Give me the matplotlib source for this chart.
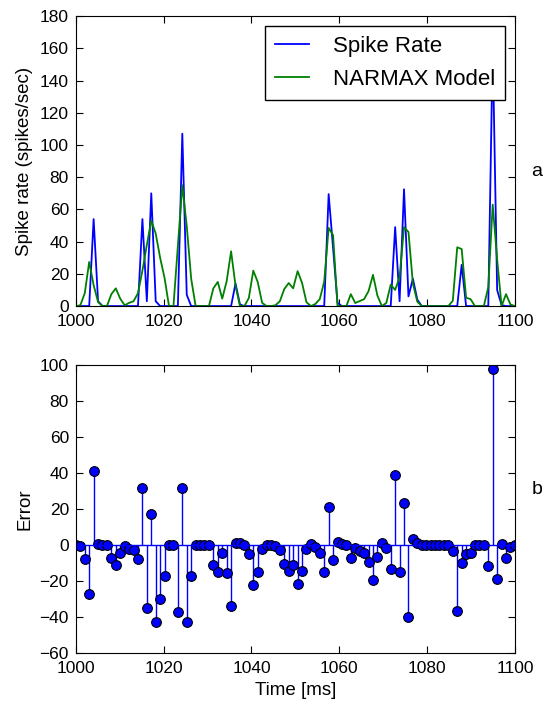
import numpy as np
import matplotlib.pyplot as plt

# values, 100 samples between 1000 and 1100 ms
spike_rate = [0, 0, 0, 0, 54, 3, 0, 0, 0, 0,
              0, 0, 0, 0, 0, 54, 3, 70, 3, 0,
              0, 0, 0, 0, 107, 7, 0, 0, 0, 0,
              0, 0, 0, 0, 0, 0, 14, 1, 0, 0,
              0, 0, 0, 0, 0, 0, 0, 0, 0, 0,
              0, 0, 0, 0, 0, 0, 0, 69.5, 36, 2,
              0, 0, 0, 0, 0, 0, 0, 0, 0, 0,
              0, 0, 49, 3, 72.5, 6, 17, 4, 0, 0,
              0, 0, 0, 0, 0, 0, 0, 25.6, 0, 0,
              0, 0, 0, 0, 161, 10, 0.6, 0, 0, 0]

narmax_model = [0, 0.5, 8, 27.4, 13, 2.5, 0, 0, 7.4, 11,
                4.6, 0.5, 2, 3, 8, 22, 38, 53, 45, 30,
                17.4, 0, 0, 37.4, 75, 49.6, 17, 0, 0, 0,
                0, 11, 15, 4.6, 15.4, 34, 12.7, 0, 0, 5,
                22, 15, 2, 0, 0, 0.5, 3, 10.6, 14.3, 11,
                21.7, 14.4, 2.4, 0, 1.3, 4.3, 15.2, 48.5, 44, 0,
                0, 0, 7.4, 1.9, 3.1, 4.3, 9.3, 19.4, 6.5, 0,
                1.9, 13.3, 10, 18, 49, 46, 14, 2.7, 0, 0,
                0, 0, 0, 0, 0, 3.3, 36.5, 35.4, 5.2, 4.3,
                0, 0, 0, 11.7, 63, 29, 0, 7.4, 1, 0]

error = [0, -0.5, -8, -27.4, 41, 0.5, 0, 0, -7.4, -11,
         -4.6, -0.5, -2, -3, -8, 32, -35, 17, -42.6, -30,
         -17.4, 0, 0, -37.4, 32, -42.6, -17, 0, 0, 0,
         0, -11, -15, -4.6, -15.4, -34, 1.3, 1, 0, -5,
         -22, -15, -2, 0, 0, -0.5, -3, -10.6, -14.3, -11,
         -21.7, -14.4, -2.4, 0.4, -1.3, -4.3, -15.2, 20.9, -8.3, 1.9,
         0.6, 0, -7.4, -1.9, -3.1, -4.3, -9.3, -19.4, -6.5, 0.9,
         -1.9, -13.3, 39, -15.2, 23.5, -40.2, 3.1, 1.3, 0, 0,
         0, 0, 0, 0, 0, -3.3, -36.5, -9.8, -5.2, -4.3,
         0, 0, 0, -11.7, 98, -19, 0.6, -7.4, -1, 0]

time = np.linspace(1000, 1100, len(spike_rate))

plt.rcParams['font.family'] = ['Liberation Sans', 'DejaVu Sans']
plt.rcParams['xtick.direction'] = 'in'
plt.rcParams['ytick.direction'] = 'in'
plt.rcParams['xtick.top'] = True
plt.rcParams['ytick.right'] = True
plt.rcParams['xtick.major.size'] = 4.8
plt.rcParams['ytick.major.size'] = 4.8
plt.rcParams['xtick.major.pad'] = 6
plt.rcParams['ytick.major.pad'] = 5
plt.rcParams['font.size'] = 12.5

fig = plt.figure(figsize=(5.46, 7.02), dpi=100)

# top: spike rate vs model
ax1 = fig.add_axes([0.139, 0.564, 0.804, 0.413])
ax1.plot(time, spike_rate, color='b', lw=1.3, label='Spike Rate')
ax1.plot(time, narmax_model, color=(0, 0.5, 0), lw=1.3, label='NARMAX Model')
ax1.set_xlim(1000, 1100)
ax1.set_ylim(0, 180)
ax1.set_xticks(np.arange(1000, 1101, 20))
ax1.set_yticks(np.arange(0, 181, 20))
ax1.set_ylabel('Spike rate (spikes/sec)', fontsize=13.5)
ax1.yaxis.set_label_coords(-0.097, 0.5)
leg = ax1.legend(loc='upper right', fontsize=16, fancybox=False, framealpha=1,
                 borderaxespad=0.45, handlelength=1.55, handletextpad=1.05,
                 labelspacing=0.52, borderpad=0.45)
leg.get_frame().set_edgecolor('black')
leg.get_frame().set_linewidth(1.0)

# bottom: error stems
ax2 = fig.add_axes([0.139, 0.0698, 0.804, 0.410])
markers, stems, base = ax2.stem(time, error, linefmt='b-', markerfmt='bo', basefmt='b-')
plt.setp(markers, markersize=7, markeredgecolor='black', markeredgewidth=0.8)
plt.setp(stems, linewidth=1.0)
plt.setp(base, linewidth=1.0)
ax2.set_xlim(1000, 1100)
ax2.set_ylim(-60, 100)
ax2.set_xticks(np.arange(1000, 1101, 20))
ax2.set_yticks(np.arange(-60, 101, 20))
ax2.set_ylabel('Error', fontsize=13.5)
ax2.yaxis.set_label_coords(-0.097, 0.5)
ax2.set_xlabel('Time [ms]', fontsize=13.5)
ax2.xaxis.set_label_coords(0.5, -0.102)

fig.text(0.983, 0.755, 'a', fontsize=14, ha='center', va='center')
fig.text(0.983, 0.302, 'b', fontsize=14, ha='center', va='center')

fig.savefig('out.png', dpi=100)
